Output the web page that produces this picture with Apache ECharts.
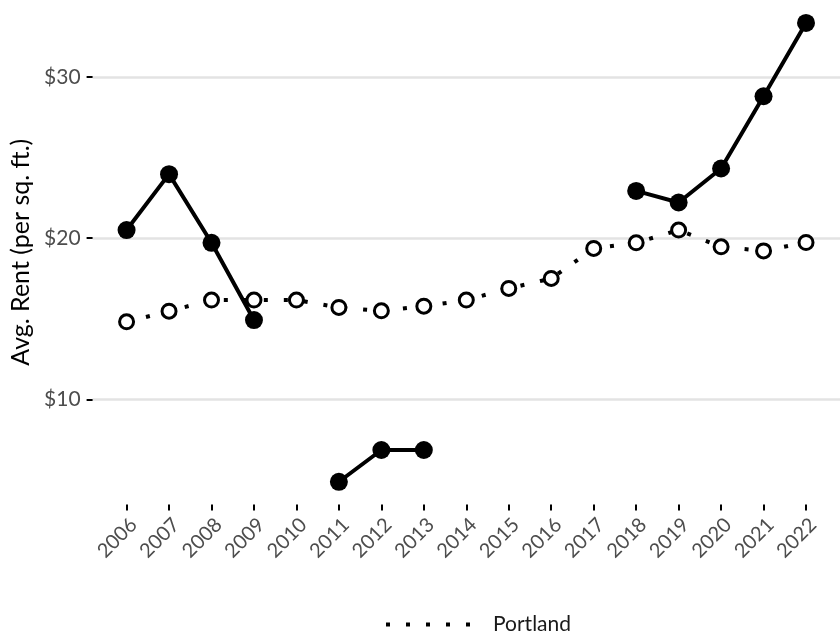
<!DOCTYPE html>
<html><head><meta charset="utf-8">
<script src="https://cdn.jsdelivr.net/npm/echarts@6/dist/echarts.min.js"></script>
<style>html,body{margin:0;padding:0;background:#fff}#c{width:840px;height:633px}</style>
</head><body><div id="c"></div>
<script>
const years = [2006, 2007, 2008, 2009, 2010, 2011, 2012, 2013, 2014, 2015, 2016, 2017, 2018, 2019, 2020, 2021, 2022];
const subjectRent = [20.5, 23.97, 19.71, 14.92, null, 4.89, 6.86, 6.86, null, null, null, null, 22.93, 22.21, 24.32, 28.8, 33.35];
const portlandRent = [14.81, 15.47, 16.16, 16.16, 16.16, 15.7, 15.49, 15.78, 16.16, 16.88, 17.5, 19.36, 19.71, 20.5, 19.46, 19.21, 19.73];
const yTicks = [10, 20, 30];
const yAxisName = 'Avg. Rent (per sq. ft.)';
const legendName = 'Portland';

const FONT = 'Lato';
const chart = echarts.init(document.getElementById('c'), null, {renderer: 'canvas'});
chart.setOption({
  backgroundColor: '#ffffff',
  animation: false,
  textStyle: {fontFamily: FONT},
  grid: {left: 92.6, top: 0, width: 750.5, height: 504.5, containLabel: false},
  legend: {
    data: [{name: legendName, itemStyle: {opacity: 0}}],
    left: 379, top: 609,
    itemWidth: 84, itemHeight: 20,
    lineStyle: {color: '#000', width: 4, type: [4, 16], cap: 'butt'},
    textStyle: {fontFamily: FONT, fontSize: 21, color: '#1a1a1a', padding: [0, 0, 0, 18]}
  },
  xAxis: {
    type: 'value', min: 2005.2, max: 2022.8,
    axisLine: {show: false},
    splitLine: {show: false},
    axisTick: {show: true, length: 6, customValues: years, lineStyle: {color: '#000', width: 2}},
    axisLabel: {
      customValues: years, rotate: 45, margin: 10, verticalAlign: 'top',
      fontFamily: FONT, fontSize: 20, color: '#4d4d4d',
      formatter: v => String(v)
    }
  },
  yAxis: {
    type: 'value', min: 3.48, max: 34.77,
    name: yAxisName, nameLocation: 'middle', nameGap: 51,
    nameTextStyle: {fontFamily: FONT, fontSize: 25, color: '#000'},
    axisLine: {show: false},
    axisTick: {show: true, length: 6, customValues: yTicks, lineStyle: {color: '#000', width: 2}},
    axisLabel: {
      customValues: yTicks, margin: 12,
      fontFamily: FONT, fontSize: 21, color: '#4d4d4d',
      formatter: v => '$' + v
    },
    splitLine: {show: true, lineStyle: {color: '#e3e3e3', width: 2.5}}
  },
  series: [
    {
      name: 'Subject',
      type: 'line',
      data: years.map((y, i) => [y, subjectRent[i]]),
      connectNulls: false,
      symbol: 'circle', symbolSize: 18,
      itemStyle: {color: '#000'},
      lineStyle: {color: '#000', width: 4},
      z: 2
    },
    {
      name: legendName,
      type: 'line',
      data: years.map((y, i) => [y, portlandRent[i]]),
      symbol: 'circle', symbolSize: 14,
      itemStyle: {color: '#fff', borderColor: '#000', borderWidth: 3},
      lineStyle: {color: '#000', width: 4, type: [4, 16], cap: 'butt'},
      z: 3
    }
  ]
});
</script>
</body></html>
